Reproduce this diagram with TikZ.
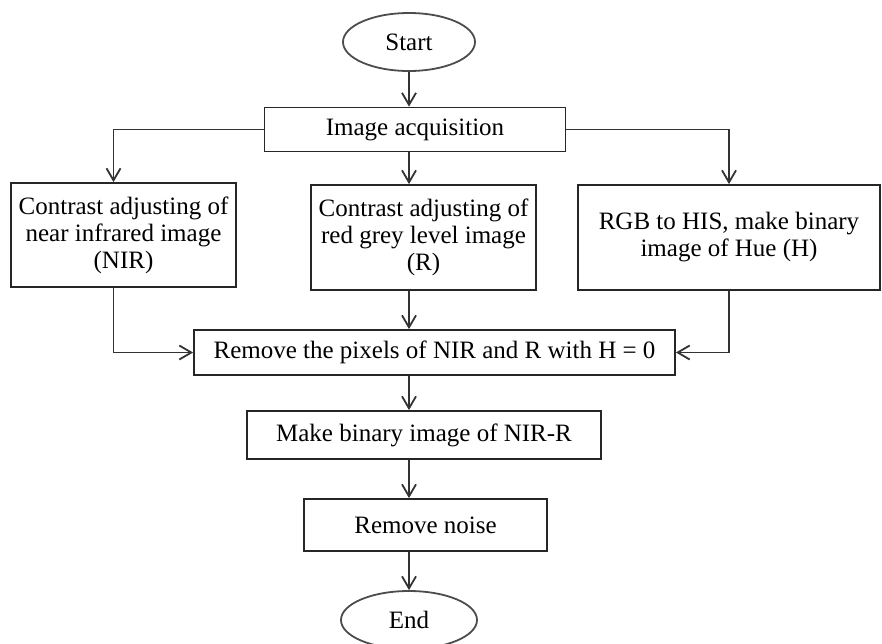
\documentclass[tikz,border=0pt]{standalone}
\usepackage{fontspec}
\setmainfont{Liberation Serif}
\usetikzlibrary{arrows.meta}
\usetikzlibrary{shapes.geometric}

\begin{document}
\begin{tikzpicture}[x=0.5pt, y=-0.5pt,
    box/.style={rectangle, draw=black!85, line width=0.9pt, align=center, inner sep=2pt, font=\fontsize{12.5}{13.5}\selectfont},
    term/.style={ellipse, draw=black!70, line width=0.9pt, inner sep=0pt, font=\fontsize{12.5}{13.5}\selectfont},
    flow/.style={draw=black!80, line width=0.9pt, -{Straight Barb[length=6pt, width=7pt]}}]
    \useasboundingbox (0,0) rectangle (882,643);

    \node[term, minimum width=66pt, minimum height=29pt] (1) at (409,42) {Start};
    \node[box, minimum width=150.5pt, minimum height=22pt] (2) at (415,129.5) {Image acquisition};
    \node[box, minimum width=112.5pt, minimum height=52pt] (3) at (123.5,235) {Contrast adjusting of\\near infrared image\\(NIR)};
    \node[box, minimum width=112.5pt, minimum height=52.5pt] (4) at (423.5,237.5) {Contrast adjusting of\\red grey level image\\(R)};
    \node[box, minimum width=151pt, minimum height=52.5pt] (5) at (729,237.5) {RGB to HIS, make binary\\image of Hue (H)};
    \node[box, minimum width=240.5pt, minimum height=22.5pt] (6) at (434.5,352.5) {Remove the pixels of NIR and R with H = 0};
    \node[box, minimum width=177pt, minimum height=24pt] (7) at (424,435) {Make binary image of NIR-R};
    \node[box, minimum width=121.5pt, minimum height=26pt] (8) at (425.5,525) {Remove noise};
    \node[term, minimum width=68pt, minimum height=29pt] (9) at (409,620) {End};

    \draw[flow] (1) -- (1 |- 2.north);
    \draw[flow] (2.west) -| ([xshift=-5pt]3.north);
    \draw[flow] (2.south -| 1) -- (4.north -| 1);
    \draw[flow] (2.east) -| (5.north);
    \draw[flow] ([xshift=-5pt]3.south) |- (6.west);
    \draw[flow] (4.south -| 1) -- (6.north -| 1);
    \draw[flow] (5.south) |- (6.east);
    \draw[flow] (6.south -| 1) -- (7.north -| 1);
    \draw[flow] (7.south -| 1) -- (8.north -| 1);
    \draw[flow] (8.south -| 1) -- (9);
\end{tikzpicture}
\end{document}
